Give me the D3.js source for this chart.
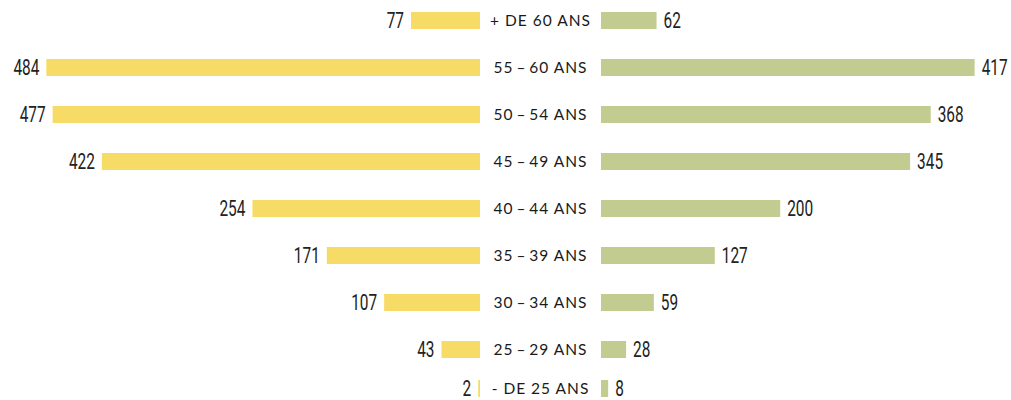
<!DOCTYPE html>
<html>
<head>
<meta charset="utf-8">
<script src="https://cdn.jsdelivr.net/npm/d3@7"></script>
<style>
  body { margin: 0; background: #fff; }
  .cat { font-family: Lato, sans-serif; font-size: 15.5px; letter-spacing: 1px; fill: #1a1a1a; }
  .num { font-family: Roboto, sans-serif; font-size: 22px; fill: #222; }
</style>
</head>
<body>
<svg width="1011" height="400"></svg>
<script>
const categories = ['+ DE 60 ANS', '55\u2009–\u200960 ANS', '50\u2009–\u200954 ANS', '45\u2009–\u200949 ANS',
  '40\u2009–\u200944 ANS', '35\u2009–\u200939 ANS', '30\u2009–\u200934 ANS', '25\u2009–\u200929 ANS', '- DE 25 ANS'];
const leftValues = [77, 484, 477, 422, 254, 171, 107, 43, 2];
const rightValues = [62, 417, 368, 345, 200, 127, 59, 28, 8];

const svg = d3.select('svg');
const width = +svg.attr('width');
const height = +svg.attr('height');
const leftEdge = 480;   // where yellow bars end
const rightEdge = 601;  // where green bars start
const barH = 17;
const squeeze = 0.7;    // narrow the number glyphs

const x = d3.scaleLinear().domain([0, 500]).range([0, 448]);
const y = d3.scaleBand().domain(categories).range([12, 12 + 47 * (9 - 0.64)]).paddingInner(0.64).paddingOuter(0);
// keep the last row inside the picture
const rowY = (c) => Math.min(y(c), height - barH - 3);

const rows = categories.map((c, i) => ({ c, l: leftValues[i], r: rightValues[i] }));

const g = svg.append('g');

g.selectAll('.bar-l')
  .data(rows)
  .enter()
  .append('rect')
  .attr('x', (d) => leftEdge - x(d.l))
  .attr('y', (d) => rowY(d.c))
  .attr('width', (d) => x(d.l))
  .attr('height', barH)
  .attr('fill', '#f6dc66');

g.selectAll('.bar-r')
  .data(rows)
  .enter()
  .append('rect')
  .attr('x', rightEdge)
  .attr('y', (d) => rowY(d.c))
  .attr('width', (d) => x(d.r))
  .attr('height', barH)
  .attr('fill', '#c2cc90');

g.selectAll('.num-l')
  .data(rows)
  .enter()
  .append('text')
  .attr('class', 'num')
  .attr('transform', (d) => `translate(${leftEdge - x(d.l) - 7},${rowY(d.c) + barH / 2}) scale(${squeeze},1)`)
  .attr('dy', '0.36em')
  .attr('text-anchor', 'end')
  .text((d) => d.l);

g.selectAll('.num-r')
  .data(rows)
  .enter()
  .append('text')
  .attr('class', 'num')
  .attr('transform', (d) => `translate(${rightEdge + x(d.r) + 7},${rowY(d.c) + barH / 2}) scale(${squeeze},1)`)
  .attr('dy', '0.36em')
  .text((d) => d.r);

g.selectAll('.cat')
  .data(rows)
  .enter()
  .append('text')
  .attr('class', 'cat')
  .attr('x', (leftEdge + rightEdge) / 2)
  .attr('y', (d) => rowY(d.c) + barH / 2)
  .attr('dy', '0.38em')
  .attr('text-anchor', 'middle')
  .text((d) => d.c);
</script>
</body>
</html>
